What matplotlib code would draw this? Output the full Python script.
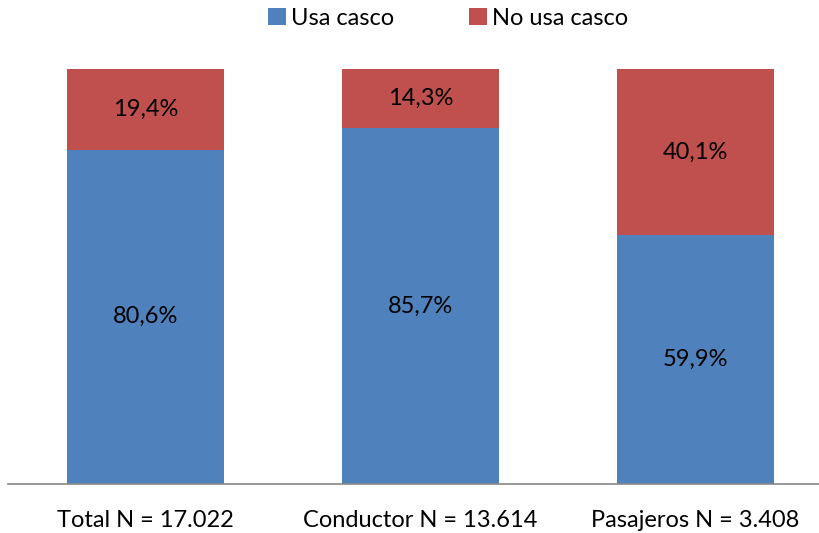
import matplotlib
matplotlib.use('Agg')
import matplotlib.pyplot as plt
import numpy as np

plt.rcParams['font.family'] = ['Lato', 'DejaVu Sans']

# Data
categories = ['Total N = 17.022', 'Conductor N = 13.614', 'Pasajeros N = 3.408']
usa_casco = [80.6, 85.7, 59.9]
no_usa_casco = [19.4, 14.3, 40.1]
series_names = ['Usa casco', 'No usa casco']

blue = '#4F81BD'
red = '#C0504D'
fs = 17

fig = plt.figure(figsize=(8.19, 5.33), dpi=100)
ax = fig.add_axes([8/819, 49/533, 811/819, 415/533])

x = np.arange(len(categories))
width = 0.571

b1 = ax.bar(x, usa_casco, width, color=blue, label=series_names[0])
b2 = ax.bar(x, no_usa_casco, width, bottom=usa_casco, color=red, label=series_names[1])

# Labels in the middle of each segment
for i in range(len(categories)):
    ax.text(x[i], usa_casco[i] / 2, f"{usa_casco[i]:.1f}%".replace('.', ','),
            ha='center', va='center', fontsize=fs, color='black')
    ax.text(x[i], usa_casco[i] + no_usa_casco[i] / 2, f"{no_usa_casco[i]:.1f}%".replace('.', ','),
            ha='center', va='center', fontsize=fs, color='black')

ax.set_xlim(-0.5, -0.5 + 811/275)
ax.set_ylim(0, 100)
ax.set_xticks(x)
ax.set_xticklabels(categories, fontsize=fs)
ax.tick_params(axis='x', length=0, pad=19)
ax.set_yticks([])

for s in ['top', 'right', 'left']:
    ax.spines[s].set_visible(False)
ax.spines['bottom'].set_color('#888888')
ax.spines['bottom'].set_linewidth(1.2)

fig.legend(handles=[b1, b2], labels=series_names, loc='upper center',
           bbox_to_anchor=(0.547, 1.025), ncol=2, frameon=False, fontsize=fs,
           handlelength=0.75, handleheight=0.75, handletextpad=0.2, columnspacing=3.2)

fig.savefig('out.png', dpi=100)
